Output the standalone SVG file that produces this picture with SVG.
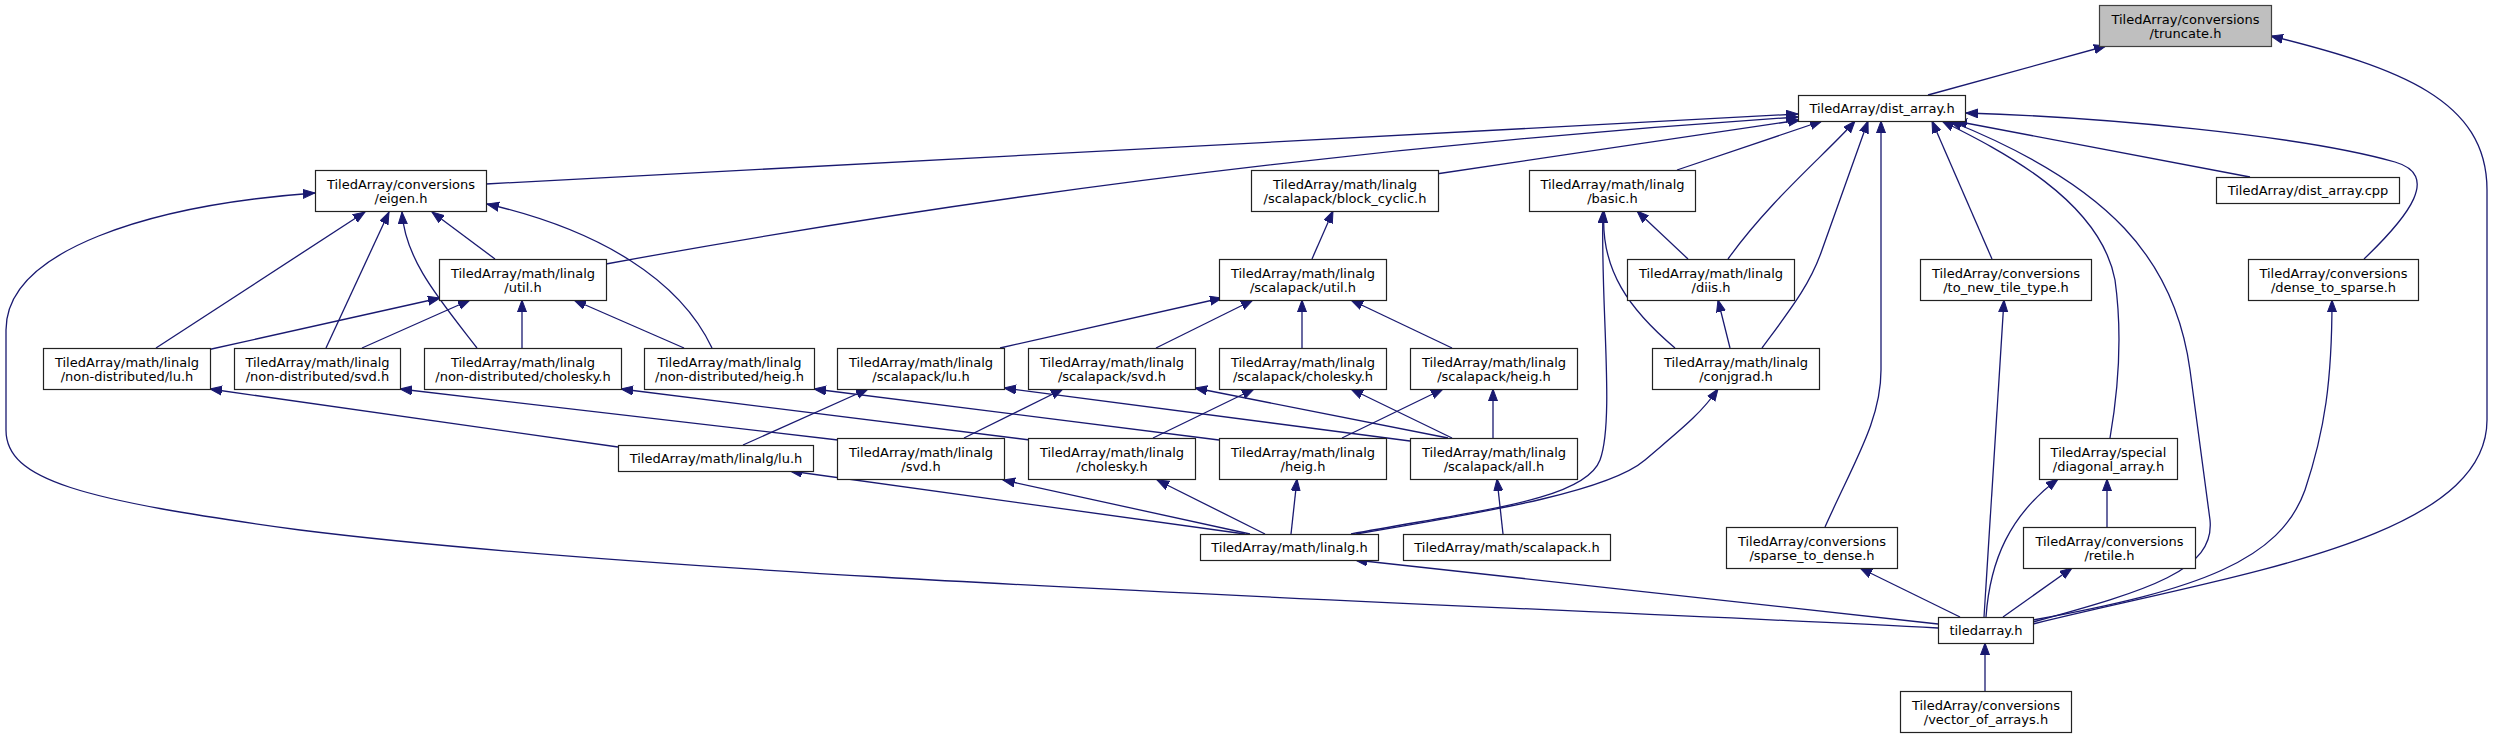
<svg xmlns="http://www.w3.org/2000/svg" width="2493" height="737" viewBox="0 0 2493 737">
<defs>
<style>
.n rect{fill:#fff;stroke:#222;stroke-width:1.2}
.n.root rect{fill:#bfbfbf;stroke:#404040}
.n text{font-family:"DejaVu Sans","Liberation Sans",sans-serif;font-size:13px;fill:#000;text-anchor:middle}
#edges path{fill:none;stroke:#191970;stroke-width:1.3;marker-end:url(#ah)}
</style>
<marker id="ah" markerUnits="userSpaceOnUse" markerWidth="13" markerHeight="11" refX="12" refY="5" orient="auto" viewBox="0 0 13 11">
<path d="M0,0.5 L12,5 L0,9.5 z" fill="#191970" stroke="#191970" stroke-width="1"/>
</marker>
</defs>
<rect width="2493" height="737" fill="#fff"/>
<g id="edges">
<path d="M1928,95 L2106,46"/>
<path d="M2033,624 C2230,575 2487,540 2487,420 L2487,190 C2487,100 2400,68 2271,36"/>
<path d="M486,184 L1798,114"/>
<path d="M606,264 C900,210 1300,150 1798,117"/>
<path d="M1436,174 L1800,120"/>
<path d="M1677,170 L1822,121"/>
<path d="M1728,259 C1770,200 1830,150 1855,121"/>
<path d="M1762,348 C1790,310 1810,285 1822,250 L1868,121"/>
<path d="M1825,527 C1855,460 1881,420 1881,370 L1881,121"/>
<path d="M1992,259 L1932,121"/>
<path d="M2110,438 C2120,380 2122,330 2115,280 C2100,200 2000,150 1942,121"/>
<path d="M2033,622 C2150,590 2215,570 2210,520 L2190,370 C2175,260 2110,185 1950,121"/>
<path d="M2250,177 L1955,121"/>
<path d="M2364,259 C2410,215 2440,175 2395,162 C2300,135 2100,117 1966,113"/>
<path d="M156,348 L365,212"/>
<path d="M326,348 L389,212"/>
<path d="M477,348 C440,300 405,260 402,212"/>
<path d="M495,259 L432,212"/>
<path d="M712,348 C680,280 600,230 487,204"/>
<path d="M207,350 L440,298"/>
<path d="M362,348 L470,300"/>
<path d="M522,348 L522,300"/>
<path d="M684,348 L574,300"/>
<path d="M1312,259 L1333,211"/>
<path d="M1000,348 L1222,298"/>
<path d="M1156,348 L1253,300"/>
<path d="M1302,348 L1302,300"/>
<path d="M1452,348 L1351,300"/>
<path d="M1688,259 L1637,211"/>
<path d="M1675,348 C1630,310 1600,270 1604,211"/>
<path d="M1351,534 C1480,510 1585,500 1600,460 C1615,420 1600,300 1603,211"/>
<path d="M1730,348 L1718,300"/>
<path d="M1356,534 C1500,510 1610,490 1645,460 C1680,430 1700,415 1718,389"/>
<path d="M1245,534 L790,471"/>
<path d="M1250,534 L1003,480"/>
<path d="M1265,534 L1157,480"/>
<path d="M1291,534 L1297,479"/>
<path d="M1503,534 L1497,479"/>
<path d="M618,447 L210,389"/>
<path d="M838,440 L400,389"/>
<path d="M1030,440 L621,389"/>
<path d="M1219,440 L814,389"/>
<path d="M743,445 L868,389"/>
<path d="M964,438 L1063,389"/>
<path d="M1153,438 L1254,389"/>
<path d="M1342,438 L1443,389"/>
<path d="M1410,441 L1004,388"/>
<path d="M1448,438 L1195,388"/>
<path d="M1452,438 L1351,389"/>
<path d="M1493,438 L1493,389"/>
<path d="M2107,527 L2107,479"/>
<path d="M1986,617 C1990,560 2010,515 2058,479"/>
<path d="M2003,617 L2072,568"/>
<path d="M1960,617 L1860,568"/>
<path d="M1984,617 L2004,300"/>
<path d="M2033,620 C2200,590 2280,560 2305,490 C2325,430 2332,380 2332,300"/>
<path d="M1985,691 L1985,643"/>
<path d="M1938,624 L1355,560"/>
<path d="M1938,628 C1500,605 700,580 300,530 C80,500 6,480 6,430 L6,330 C6,250 150,205 315,193"/>
</g>
<g id="n_truncate" class="n root"><rect x="2099.5" y="5.5" width="172" height="41"/><text x="2185.5" y="23.5">TiledArray/conversions</text><text x="2185.5" y="37.5">/truncate.h</text></g>
<g id="n_dist_array" class="n"><rect x="1798.5" y="95.5" width="167" height="26"/><text x="1882" y="112.5">TiledArray/dist_array.h</text></g>
<g id="n_eigen" class="n"><rect x="315.5" y="170.5" width="171" height="41"/><text x="401" y="188.5">TiledArray/conversions</text><text x="401" y="202.5">/eigen.h</text></g>
<g id="n_block_cyclic" class="n"><rect x="1251.5" y="170.5" width="187" height="41"/><text x="1345" y="188.5">TiledArray/math/linalg</text><text x="1345" y="202.5">/scalapack/block_cyclic.h</text></g>
<g id="n_basic" class="n"><rect x="1529.5" y="170.5" width="166" height="41"/><text x="1612.5" y="188.5">TiledArray/math/linalg</text><text x="1612.5" y="202.5">/basic.h</text></g>
<g id="n_dist_array_cpp" class="n"><rect x="2216.5" y="177.5" width="183" height="26"/><text x="2308" y="194.5">TiledArray/dist_array.cpp</text></g>
<g id="n_util" class="n"><rect x="439.5" y="259.5" width="167" height="41"/><text x="523" y="277.5">TiledArray/math/linalg</text><text x="523" y="291.5">/util.h</text></g>
<g id="n_sc_util" class="n"><rect x="1219.5" y="259.5" width="167" height="41"/><text x="1303" y="277.5">TiledArray/math/linalg</text><text x="1303" y="291.5">/scalapack/util.h</text></g>
<g id="n_diis" class="n"><rect x="1627.5" y="259.5" width="167" height="41"/><text x="1711" y="277.5">TiledArray/math/linalg</text><text x="1711" y="291.5">/diis.h</text></g>
<g id="n_to_new_tile_type" class="n"><rect x="1920.5" y="259.5" width="171" height="41"/><text x="2006" y="277.5">TiledArray/conversions</text><text x="2006" y="291.5">/to_new_tile_type.h</text></g>
<g id="n_dense_to_sparse" class="n"><rect x="2248.5" y="259.5" width="170" height="41"/><text x="2333.5" y="277.5">TiledArray/conversions</text><text x="2333.5" y="291.5">/dense_to_sparse.h</text></g>
<g id="n_nd_lu" class="n"><rect x="43.5" y="348.5" width="167" height="41"/><text x="127" y="366.5">TiledArray/math/linalg</text><text x="127" y="380.5">/non-distributed/lu.h</text></g>
<g id="n_nd_svd" class="n"><rect x="234.5" y="348.5" width="166" height="41"/><text x="317.5" y="366.5">TiledArray/math/linalg</text><text x="317.5" y="380.5">/non-distributed/svd.h</text></g>
<g id="n_nd_cholesky" class="n"><rect x="424.5" y="348.5" width="197" height="41"/><text x="523" y="366.5">TiledArray/math/linalg</text><text x="523" y="380.5">/non-distributed/cholesky.h</text></g>
<g id="n_nd_heig" class="n"><rect x="644.5" y="348.5" width="170" height="41"/><text x="729.5" y="366.5">TiledArray/math/linalg</text><text x="729.5" y="380.5">/non-distributed/heig.h</text></g>
<g id="n_sc_lu" class="n"><rect x="837.5" y="348.5" width="167" height="41"/><text x="921" y="366.5">TiledArray/math/linalg</text><text x="921" y="380.5">/scalapack/lu.h</text></g>
<g id="n_sc_svd" class="n"><rect x="1028.5" y="348.5" width="167" height="41"/><text x="1112" y="366.5">TiledArray/math/linalg</text><text x="1112" y="380.5">/scalapack/svd.h</text></g>
<g id="n_sc_cholesky" class="n"><rect x="1219.5" y="348.5" width="167" height="41"/><text x="1303" y="366.5">TiledArray/math/linalg</text><text x="1303" y="380.5">/scalapack/cholesky.h</text></g>
<g id="n_sc_heig" class="n"><rect x="1410.5" y="348.5" width="167" height="41"/><text x="1494" y="366.5">TiledArray/math/linalg</text><text x="1494" y="380.5">/scalapack/heig.h</text></g>
<g id="n_conjgrad" class="n"><rect x="1652.5" y="348.5" width="167" height="41"/><text x="1736" y="366.5">TiledArray/math/linalg</text><text x="1736" y="380.5">/conjgrad.h</text></g>
<g id="n_lu" class="n"><rect x="618.5" y="445.5" width="195" height="26"/><text x="716" y="462.5">TiledArray/math/linalg/lu.h</text></g>
<g id="n_svd" class="n"><rect x="837.5" y="438.5" width="167" height="41"/><text x="921" y="456.5">TiledArray/math/linalg</text><text x="921" y="470.5">/svd.h</text></g>
<g id="n_cholesky" class="n"><rect x="1028.5" y="438.5" width="167" height="41"/><text x="1112" y="456.5">TiledArray/math/linalg</text><text x="1112" y="470.5">/cholesky.h</text></g>
<g id="n_heig" class="n"><rect x="1219.5" y="438.5" width="167" height="41"/><text x="1303" y="456.5">TiledArray/math/linalg</text><text x="1303" y="470.5">/heig.h</text></g>
<g id="n_sc_all" class="n"><rect x="1410.5" y="438.5" width="167" height="41"/><text x="1494" y="456.5">TiledArray/math/linalg</text><text x="1494" y="470.5">/scalapack/all.h</text></g>
<g id="n_diagonal_array" class="n"><rect x="2039.5" y="438.5" width="138" height="41"/><text x="2108.5" y="456.5">TiledArray/special</text><text x="2108.5" y="470.5">/diagonal_array.h</text></g>
<g id="n_linalg" class="n"><rect x="1200.5" y="534.5" width="178" height="26"/><text x="1289.5" y="551.5">TiledArray/math/linalg.h</text></g>
<g id="n_scalapack" class="n"><rect x="1403.5" y="534.5" width="207" height="26"/><text x="1507" y="551.5">TiledArray/math/scalapack.h</text></g>
<g id="n_sparse_to_dense" class="n"><rect x="1726.5" y="527.5" width="171" height="41"/><text x="1812" y="545.5">TiledArray/conversions</text><text x="1812" y="559.5">/sparse_to_dense.h</text></g>
<g id="n_retile" class="n"><rect x="2023.5" y="527.5" width="172" height="41"/><text x="2109.5" y="545.5">TiledArray/conversions</text><text x="2109.5" y="559.5">/retile.h</text></g>
<g id="n_tiledarray" class="n"><rect x="1938.5" y="617.5" width="95" height="26"/><text x="1986" y="634.5">tiledarray.h</text></g>
<g id="n_vector_of_arrays" class="n"><rect x="1900.5" y="691.5" width="171" height="41"/><text x="1986" y="709.5">TiledArray/conversions</text><text x="1986" y="723.5">/vector_of_arrays.h</text></g>
</svg>
